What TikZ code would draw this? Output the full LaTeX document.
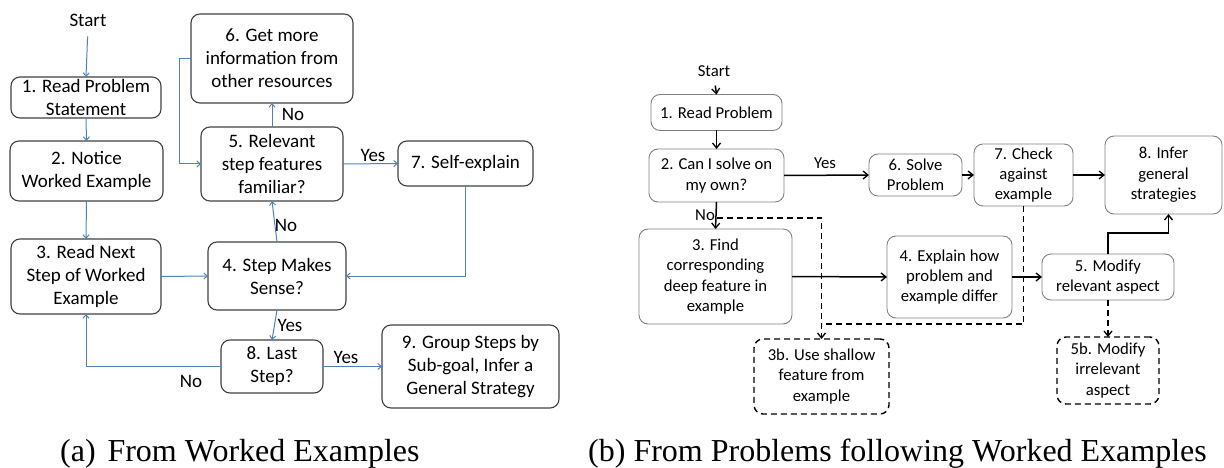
\documentclass[tikz,border=0pt]{standalone}
\usepackage{fontspec}
\setmainfont{Carlito}
\newfontfamily\capfont{Liberation Serif}
\usetikzlibrary{arrows.meta}

\definecolor{flowblue}{RGB}{79,129,189}
\definecolor{boxedge}{RGB}{64,64,64}
\definecolor{lightedge}{RGB}{128,128,128}

\tikzset{
  lbox/.style={draw=boxedge, line width=1.1pt, rounded corners=9pt, align=center,
    inner sep=0pt, outer sep=0pt, font=\fontsize{19}{23}\selectfont},
  rbox/.style={draw=lightedge, line width=0.9pt, rounded corners=9pt, align=center,
    inner sep=0pt, outer sep=0pt, font=\fontsize{16.7}{20.3}\selectfont},
  rdbox/.style={rbox, draw=black, line width=1.4pt, dash pattern=on 6pt off 4pt},
  ltext/.style={inner sep=0pt, font=\fontsize{19}{23}\selectfont},
  rtext/.style={inner sep=0pt, font=\fontsize{16.7}{20.3}\selectfont},
  larrow/.style={draw=flowblue, line width=1pt, -{Straight Barb[length=3.5pt,width=6pt]}},
  rarrow/.style={draw=black, line width=1.5pt, -{Straight Barb[length=5pt,width=8pt,line width=1.3pt]}},
  dline/.style={draw=black, line width=1.5pt, dash pattern=on 6pt off 4pt},
  darrow/.style={dline, -{Straight Barb[length=5pt,width=8pt,line width=1.3pt,sep=0pt]}},
  caption/.style={anchor=base west, inner sep=0pt, font=\capfont\fontsize{32}{36}\selectfont}
}

\begin{document}
\begin{tikzpicture}[x=1pt,y=-1pt]
\useasboundingbox (0,0) rectangle (1224,468);

% ---------- (a) learning from worked examples ----------
\node[ltext] (L0) at (88,20) {Start};
\node[lbox, minimum width=150pt, minimum height=41pt] (L1) at (86,97.5) {1. Read Problem\\Statement};
\node[lbox, minimum width=153pt, minimum height=60pt] (L2) at (86.5,171) {2. Notice\\Worked Example};
\node[lbox, minimum width=150pt, minimum height=75pt] (L3) at (86,276.5) {3. Read Next\\Step of Worked\\Example};
\node[lbox, minimum width=138pt, minimum height=68pt] (L4) at (277,276) {4. Step Makes\\Sense?};
\node[lbox, minimum width=142pt, minimum height=74pt] (L5) at (272,164) {5. Relevant\\step features\\familiar?};
\node[lbox, minimum width=162pt, minimum height=89pt] (L6) at (272,58.5) {6. Get more\\information from\\other resources};
\node[lbox, minimum width=135pt, minimum height=45pt] (L7) at (465.5,163.5) {7. Self-explain};
\node[lbox, minimum width=102pt, minimum height=53pt] (L8) at (272,366.5) {8. Last\\Step?};
\node[lbox, minimum width=177pt, minimum height=83pt] (L9) at (470.5,366.5) {9. Group Steps by\\Sub-goal, Infer a\\General Strategy};

\draw[larrow, shorten <=10pt] (L0.south) -- (L1.north);
\draw[larrow] (L1.south) -- (L2.north);
\draw[larrow] (L2.south) -- (L3.north);
\draw[larrow] (L3.east) -- (L4.west);
\draw[larrow] (L4.north) -- (L5.south);
\draw[larrow] (L5.north) -- (L6.south);
\draw[larrow] (L6.west) -- ++(-12,0) |- (L5.west);
\draw[larrow] (L5.east) -- (L7.west);
\draw[larrow] (L7.south) |- (L4.east);
\draw[larrow] (L4.south) -- (L8.north);
\draw[larrow] (L8.east) -- (L9.west);
\draw[larrow] (L8.west) -| (L3.south);

\node[ltext] (lno1) at (286,225) {No};
\node[ltext] (lno2) at (293,114) {No};
\node[ltext] (lyes1) at (373,155) {Yes};
\node[ltext] (lyes2) at (290,325) {Yes};
\node[ltext] (lyes3) at (346,357) {Yes};
\node[ltext] (lno3) at (191,381) {No};

% ---------- (b) solving problems after worked examples ----------
\node[rtext] (R0) at (714,71) {Start};
\node[rbox, minimum width=131pt, minimum height=36pt] (R1) at (716.5,112.5) {1. Read Problem};
\node[rbox, minimum width=135pt, minimum height=53pt] (R2) at (716.5,175.5) {2. Can I solve on\\my own?};
\node[rbox, minimum width=93pt, minimum height=42pt] (R6) at (915.5,175) {6. Solve\\Problem};
\node[rbox, minimum width=99pt, minimum height=62pt] (R7) at (1023.5,175) {7. Check\\against\\example};
\node[rbox, minimum width=117pt, minimum height=78pt] (R8) at (1163.5,175) {8. Infer\\general\\strategies};
\node[rbox, minimum width=153pt, minimum height=95pt] (R3) at (715.5,276.5) {3. Find\\corresponding\\deep feature in\\example};
\node[rbox, minimum width=125pt, minimum height=82pt] (R4) at (949.5,277) {4. Explain how\\problem and\\example differ};
\node[rbox, minimum width=132pt, minimum height=46pt] (R5) at (1108,277) {5. Modify\\relevant aspect};
\node[rdbox, minimum width=135pt, minimum height=75pt] (R3b) at (821.5,376.5) {3b. Use shallow\\feature from\\example};
\node[rdbox, minimum width=102pt, minimum height=67pt] (R5b) at (1108,370.5) {5b. Modify\\irrelevant\\aspect};

\draw[rarrow, shorten <=9pt] (R0.south) -- (R1.north);
\draw[rarrow] (R1.south) -- (R2.north);
\draw[rarrow] (R2.east) -- (R6.west);
\draw[rarrow] (R6.east) -- (R7.west);
\draw[rarrow] (R7.east) -- (R8.west);
\draw[rarrow] (R2.south) -- (R3.north);
\draw[rarrow] (R3.east) -- (R4.west);
\draw[rarrow] (R4.east) -- (R5.west);
\draw[rarrow] (R5.north) -- ++(0,-21) -| ([xshift=5pt]R8.south);

% shallow alternatives (dashed)
\coordinate (fork) at ([yshift=-16pt]R2.south);
\draw[darrow] (fork) -| (R3b.north);
\draw[dline] (R7.south) |- ([yshift=15pt]R3b.north);
\draw[darrow] (R5.south) -- (R5b.north);

\node[rtext] (ryes) at (825,163) {Yes};
\node[rtext, anchor=east] (rno) at (715,215) {No};

% ---------- captions ----------
\node[caption] (capa) at (60,461.5) {(a)\hspace{0.12em} From Worked Examples};
\node[caption] (capb) at (588,461.5) {(b) From Problems following Worked Examples};
\end{tikzpicture}
\end{document}
